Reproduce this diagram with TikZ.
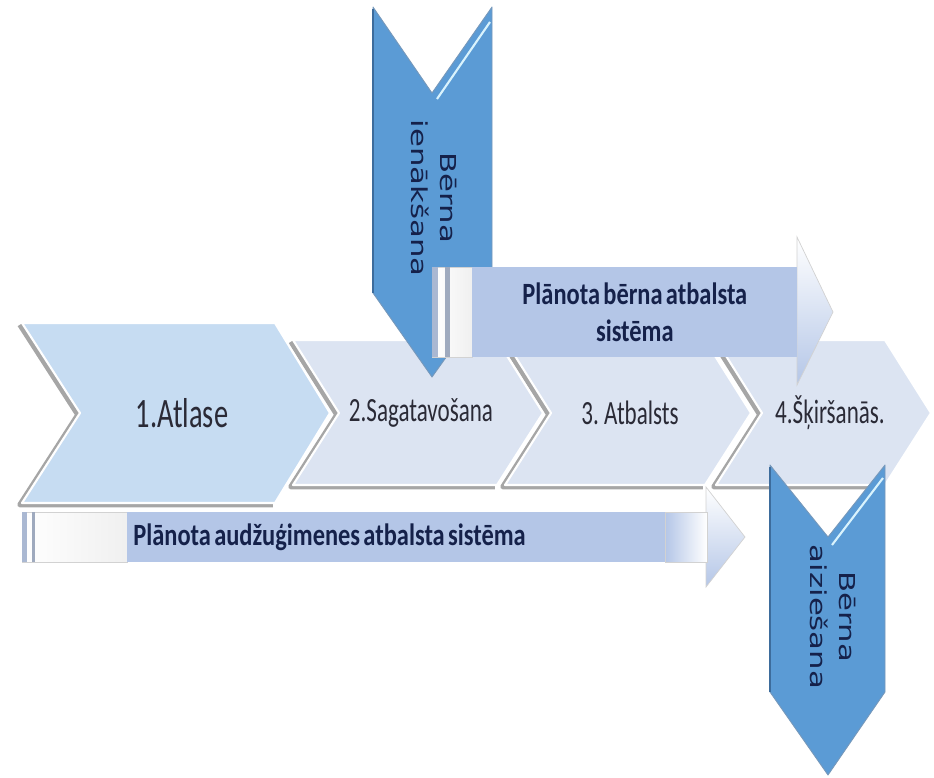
\documentclass[tikz,border=0pt]{standalone}
\usepackage{fontspec}
\setmainfont{Carlito}
\newfontfamily\stagefont[FakeStretch=0.68, WordSpace=0.7]{Carlito}
\newfontfamily\barfont[FakeStretch=0.79, WordSpace=0.6]{Carlito}
\newfontfamily\sidefont[FakeStretch=1.4]{DejaVu Sans}
\usetikzlibrary{positioning}

\definecolor{chevfirst}{HTML}{C6DCF2}
\definecolor{chevrest}{HTML}{DCE4F2}
\definecolor{stageblue}{HTML}{5B9BD5}
\definecolor{stagedark}{HTML}{3D6C9C}
\definecolor{barblue}{HTML}{B4C6E7}
\definecolor{inkgray}{HTML}{2A2A36}
\definecolor{inknavy}{HTML}{15214A}

\begin{document}
\begin{tikzpicture}[x=0.02cm, y=-0.02cm, every node/.style={inner sep=0pt}]
  % Styles
  \tikzset{
    chevron/.style = {fill=#1, draw=white, line width=1.2pt, line join=round},
    bevel/.style = {draw=gray!70, line width=3pt, line join=round, xshift=-1.2pt, yshift=-1pt},
    downarrow/.style = {fill=stageblue, draw=stagedark!70, line width=0.5pt, line join=round},
    shine/.style = {draw=cyan!15, line width=1.2pt},
    barhead/.style = {top color=white, bottom color=barblue, draw=gray!35, line width=0.4pt},
    barshaft/.style = {draw=gray!35, line width=0.4pt},
    barbox/.style = {fill=barblue, anchor=west},
    stagelabel/.style = {font=\stagefont\fontsize{19.3}{23}\selectfont, text=inkgray},
    barlabel/.style = {font=\barfont\bfseries\fontsize{17.6}{21}\selectfont, text=inknavy},
    sidelabel/.style = {font=\sidefont\fontsize{12.5}{16.4}\selectfont, text=inknavy, rotate=-90, align=center}
  }
  \useasboundingbox (0,0) rectangle (934,778);

  % Chevron shadows
  \draw[bevel] (22,323) -- (80,413) -- (22,503) -- (275,503);
  \draw[bevel] (293,340) -- (339,413) -- (293,485) -- (497,485);
  \draw[bevel] (505,340) -- (551,413) -- (505,485) -- (705,485);
  \draw[bevel] (716,340) -- (762,413) -- (716,485) -- (885,485);

  % Stages
  \path[chevron=chevfirst] (22,323) -- (275,323) -- (330,413) -- (275,503) -- (22,503) -- (80,413) -- cycle;
  \path[chevron=chevrest] (293,340) -- (497,340) -- (543,413) -- (497,485) -- (293,485) -- (339,413) -- cycle;
  \path[chevron=chevrest] (505,340) -- (705,340) -- (751,413) -- (705,485) -- (505,485) -- (551,413) -- cycle;
  \path[chevron=chevrest] (716,340) -- (885,340) -- (931,413) -- (885,485) -- (716,485) -- (762,413) -- cycle;

  \node[stagelabel, font=\stagefont\fontsize{23.8}{28}\selectfont] (Atlase) at (182,413) {1.Atlase};
  \node[stagelabel] (Sagatavosana) at (421,413) {2.Sagatavošana};
  \node[stagelabel] (Atbalsts) at (630,413) {3. Atbalsts};
  \node[stagelabel] (Skirsanas) at (830,413) {4.Šķiršanās.};

  % Child arrival
  \path[downarrow] (373,7) -- (432,93) -- (492,7) -- (492,293) -- (432,377) -- (373,293) -- cycle;
  \draw[shine] (437,99) -- (490,22);
  \draw[stagedark, line width=1.5pt] (373,9) -- (373,293);
  \node[sidelabel] (Arrival) at (434,198) {Bērna\\ienākšana};

  % Child departure
  \path[downarrow] (770,465) -- (828,537) -- (885,465) -- (885,692) -- (828,775) -- (770,692) -- cycle;
  \draw[shine] (832,545) -- (883,478);
  \draw[stagedark, line width=1.5pt] (770,467) -- (770,692);
  \node[sidelabel] (Departure) at (833,617) {Bērna\\aiziešana};

  % Planned child support
  \path[barhead] (797,237) -- (833,312) -- (797,385) -- cycle;
  \path[barshaft, left color=white, right color=gray!12] (432,267) rectangle (472,357);
  \fill[barblue!80!gray] (432,267) rectangle (438,357);
  \fill[barblue!60!gray] (445,267) rectangle (450,357);
  \node[barbox, barlabel, minimum width=6.5cm, minimum height=1.8cm, align=center] (ChildBar) at (472,312) {Plānota bērna atbalsta\\sistēma};

  % Planned foster family support
  \path[barhead] (706,487) -- (745,537) -- (706,587) -- cycle;
  \path[barshaft, left color=barblue, right color=white] (665,512) rectangle (707,562);
  \path[barshaft, left color=white, right color=gray!12] (22,512) rectangle (127,562);
  \fill[barblue!80!gray] (22,512) rectangle (27,562);
  \fill[barblue!60!gray] (32,512) rectangle (35,562);
  \node[barbox, barlabel, minimum width=10.76cm, minimum height=1cm, text width=10.52cm, inner xsep=0.12cm, align=flush left] (FosterBar) at (127,537) {Plānota audžuģimenes atbalsta sistēma};

\end{tikzpicture}
\end{document}
